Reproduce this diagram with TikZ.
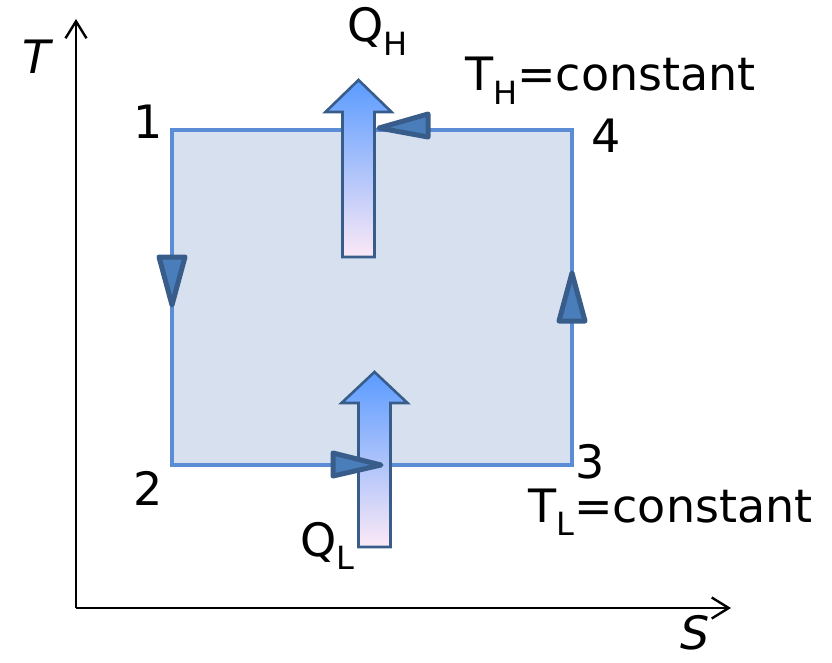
\documentclass[tikz,border=0pt]{standalone}
\usepackage{fontspec}
\setmainfont{DejaVu Sans}
\usetikzlibrary{arrows.meta}
\definecolor{cyclefill}{HTML}{D6E0EE}
\definecolor{cycleline}{HTML}{5A8DD5}
\definecolor{markfill}{HTML}{4A7EBB}
\definecolor{markline}{HTML}{385D8A}
\definecolor{heattop}{HTML}{5A9BFF}
\definecolor{heatmid}{HTML}{94C4F6}
\definecolor{heatbot}{HTML}{FCE9F6}
\newcommand{\lowsub}[1]{\raisebox{-0.3em}{\fontsize{32}{32}\selectfont #1}}
% block arrow: centre x, bottom y, head base y, tip y
\newcommand{\heatarrow}[4]{%
  \path[heat] (#1-16,#2) -- (#1-16,#3) -- (#1-33,#3) -- (#1,#4)
    -- (#1+33,#3) -- (#1+16,#3) -- (#1+16,#2) -- cycle;}

\begin{document}
\begin{tikzpicture}[x=1pt,y=-1pt,
  lbl/.style={font=\fontsize{46}{54}\selectfont, inner sep=0pt},
  axis/.style={line width=2.4pt, -{Straight Barb[length=17pt,width=21pt,line width=2.4pt]}},
  carnot/.style={draw=cycleline, fill=cyclefill, line width=3.5pt},
  dirmark/.style={draw=markline, fill=markfill, line width=5pt, line join=round},
  heat/.style={draw=markline, line width=2.6pt, top color=heattop,
    middle color=heatmid, bottom color=heatbot},
]
\useasboundingbox (0,0) rectangle (832,663);

% axes
\coordinate (o) at (76,608);
\coordinate (ytip) at (76,19);
\coordinate (xtip) at (731,608);
\draw[axis] (o) -- (ytip);
\draw[axis] (o) -- (xtip);
\node[lbl, font=\fontsize{46}{54}\selectfont\itshape] (tlab) at (37,57) {T};
\node[lbl, font=\fontsize{46}{54}\selectfont\itshape] (slab) at (695,633) {S};

% cycle corners
\coordinate (c1) at (172,130);
\coordinate (c2) at (172,465);
\coordinate (c3) at (572,465);
\coordinate (c4) at (572,130);
\draw[carnot] (c1) -- (c2) -- (c3) -- (c4) -- cycle;

% heat flows
\heatarrow{358.5}{257}{112}{80}
\heatarrow{374.5}{547}{403}{372}

% direction marks
\path[dirmark] (379,128) -- (428,114) -- (428,137) -- cycle;
\path[dirmark] (172,305) -- (159,257) -- (185,257) -- cycle;
\path[dirmark] (572,273) -- (559,321) -- (585,321) -- cycle;
\path[dirmark] (381,465) -- (333,453) -- (333,476) -- cycle;

% labels
\node[lbl] (n1) at (148,122) {1};
\node[lbl] (n2) at (148,488) {2};
\node[lbl] (n3) at (590,462) {3};
\node[lbl] (n4) at (606,136) {4};
\node[lbl, anchor=base west] (qh) at (347,42) {Q\lowsub{H}};
\node[lbl, anchor=base west] (th) at (465,91) {T\lowsub{H}=constant};
\node[lbl, anchor=base west] (tl) at (528,522) {T\lowsub{L}=constant};
\node[lbl, anchor=base west] (ql) at (300,556) {Q\lowsub{L}};
\end{tikzpicture}
\end{document}
